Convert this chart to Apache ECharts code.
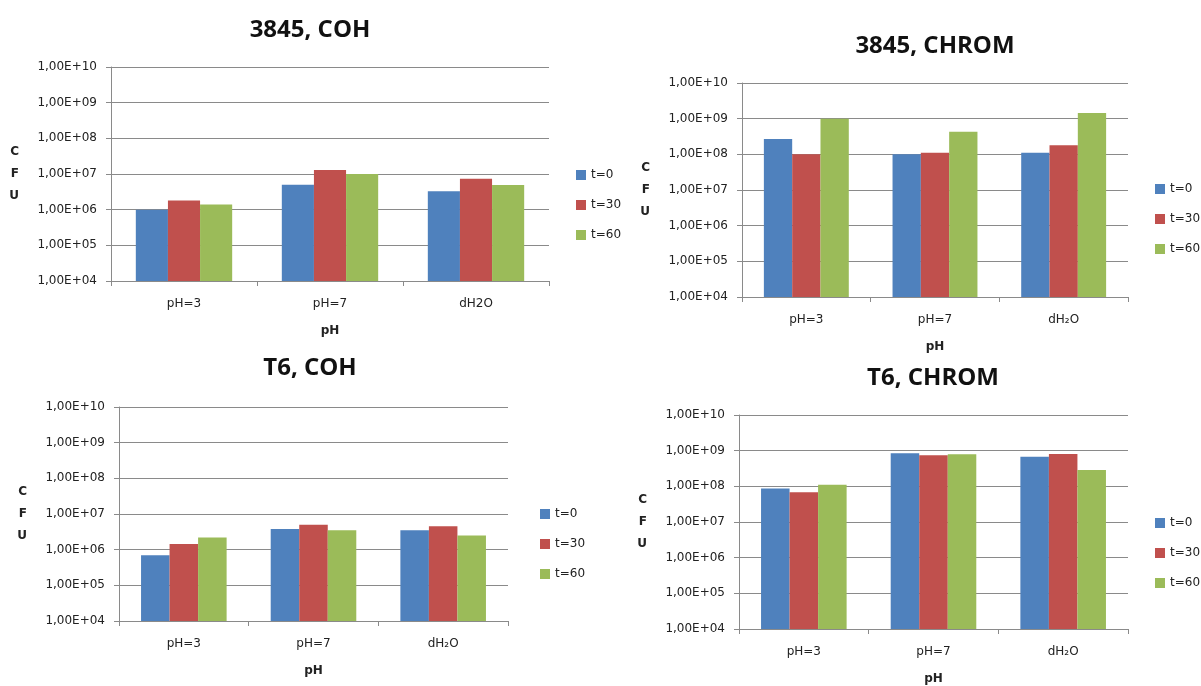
<!DOCTYPE html>
<html>
<head>
<meta charset="utf-8">
<script src="https://cdn.jsdelivr.net/npm/echarts@6/dist/echarts.min.js"></script>
<style>
html,body{margin:0;padding:0;background:#fff;}
#chart{width:1201px;height:686px;}
</style>
</head>
<body>
<div id="chart"></div>
<script>
// ---- data ----
var panelTitles = ['3845, COH', '3845, CHROM', 'T6, COH', 'T6, CHROM'];
var categoriesA = ['pH=3', 'pH=7', 'dH2O'];
var categoriesB = ['pH=3', 'pH=7', 'dH\u2082O'];
var seriesNames = ['t=0', 't=30', 't=60'];
var yTickLabels = ['1,00E+04', '1,00E+05', '1,00E+06', '1,00E+07', '1,00E+08', '1,00E+09', '1,00E+10'];

// 3845, COH
var p1_t0  = [1.0e6, 5.0e6, 3.3e6];
var p1_t30 = [1.8e6, 1.3e7, 7.4e6];
var p1_t60 = [1.4e6, 1.0e7, 4.9e6];
// 3845, CHROM
var p2_t0  = [2.7e8, 1.0e8, 1.1e8];
var p2_t30 = [1.0e8, 1.1e8, 1.8e8];
var p2_t60 = [1.0e9, 4.3e8, 1.45e9];
// T6, COH
var p3_t0  = [7.0e5, 3.8e6, 3.5e6];
var p3_t30 = [1.45e6, 5.0e6, 4.5e6];
var p3_t60 = [2.2e6, 3.5e6, 2.5e6];
// T6, CHROM
var p4_t0  = [8.7e7, 8.4e8, 6.8e8];
var p4_t30 = [6.8e7, 7.4e8, 8.0e8];
var p4_t60 = [1.1e8, 7.9e8, 2.85e8];

// ---- layout ----
var colors = ['#4F81BD', '#C0504D', '#9BBB59'];
var grids = [
  {left: 111, top: 67, width: 438, height: 214},
  {left: 742, top: 83, width: 386, height: 214},
  {left: 119, top: 407, width: 389, height: 214},
  {left: 739, top: 415, width: 389, height: 215}
];
var titlePos = [[310, 18], [935, 34], [310, 356], [933, 366]];
var legendPos = [[576, 168], [1155, 182], [540, 507], [1155, 516]];
var panelCats = [categoriesA, categoriesB, categoriesB, categoriesB];
var panelData = [
  [p1_t0, p1_t30, p1_t60],
  [p2_t0, p2_t30, p2_t60],
  [p3_t0, p3_t30, p3_t60],
  [p4_t0, p4_t30, p4_t60]
];

var textColor = '#222';
var gridColor = '#8a8a8a';
var font = 'DejaVu Sans';

var option = {
  animation: false,
  backgroundColor: '#fff',
  color: colors,
  title: [], grid: [], xAxis: [], yAxis: [], legend: [], series: []
};

for (var i = 0; i < 4; i++) {
  option.title.push({
    text: panelTitles[i],
    left: titlePos[i][0], top: titlePos[i][1], padding: 0,
    textAlign: 'center',
    textStyle: {fontFamily: 'Open Sans', fontWeight: 'bold', fontSize: 24, color: '#111'}
  });
  option.grid.push(grids[i]);
  option.xAxis.push({
    type: 'category', gridIndex: i, data: panelCats[i],
    name: 'pH', nameLocation: 'middle', nameGap: 44,
    nameTextStyle: {fontFamily: font, fontWeight: 'bold', fontSize: 12, color: textColor},
    axisLine: {lineStyle: {color: gridColor}},
    axisTick: {show: true, length: 5, lineStyle: {color: gridColor}},
    axisLabel: {margin: 17, fontFamily: font, fontSize: 12, color: textColor},
    splitLine: {show: false}
  });
  option.yAxis.push({
    type: 'log', logBase: 10, gridIndex: i, min: 1e4, max: 1e10, splitNumber: 6,
    name: 'C\nF\nU', nameLocation: 'middle', nameRotate: 0, nameGap: 92,
    nameTextStyle: {fontFamily: font, fontWeight: 'bold', fontSize: 12, color: textColor, lineHeight: 22},
    axisLine: {show: true, lineStyle: {color: gridColor}},
    axisTick: {show: true, length: 5, inside: false, lineStyle: {color: gridColor}},
    axisLabel: {
      margin: 14, fontFamily: font, fontSize: 12, color: textColor,
      formatter: function (v) {
        var e = Math.round(Math.log10(v));
        return yTickLabels[e - 4];
      }
    },
    splitLine: {show: true, lineStyle: {color: gridColor, width: 1}}
  });
  option.legend.push({
    data: seriesNames, orient: 'vertical',
    left: legendPos[i][0], top: legendPos[i][1], padding: 0,
    itemWidth: 10, itemHeight: 10, itemGap: 16, icon: 'rect',
    textStyle: {fontFamily: font, fontSize: 12, color: textColor, lineHeight: 14},
    selectedMode: false
  });
  for (var s = 0; s < 3; s++) {
    option.series.push({
      type: 'bar', name: seriesNames[s], xAxisIndex: i, yAxisIndex: i,
      data: panelData[i][s],
      barGap: '0%', barCategoryGap: '34%',
      itemStyle: {color: colors[s]}
    });
  }
}

var chart = echarts.init(document.getElementById('chart'), null, {renderer: 'canvas'});
chart.setOption(option);
</script>
</body>
</html>
